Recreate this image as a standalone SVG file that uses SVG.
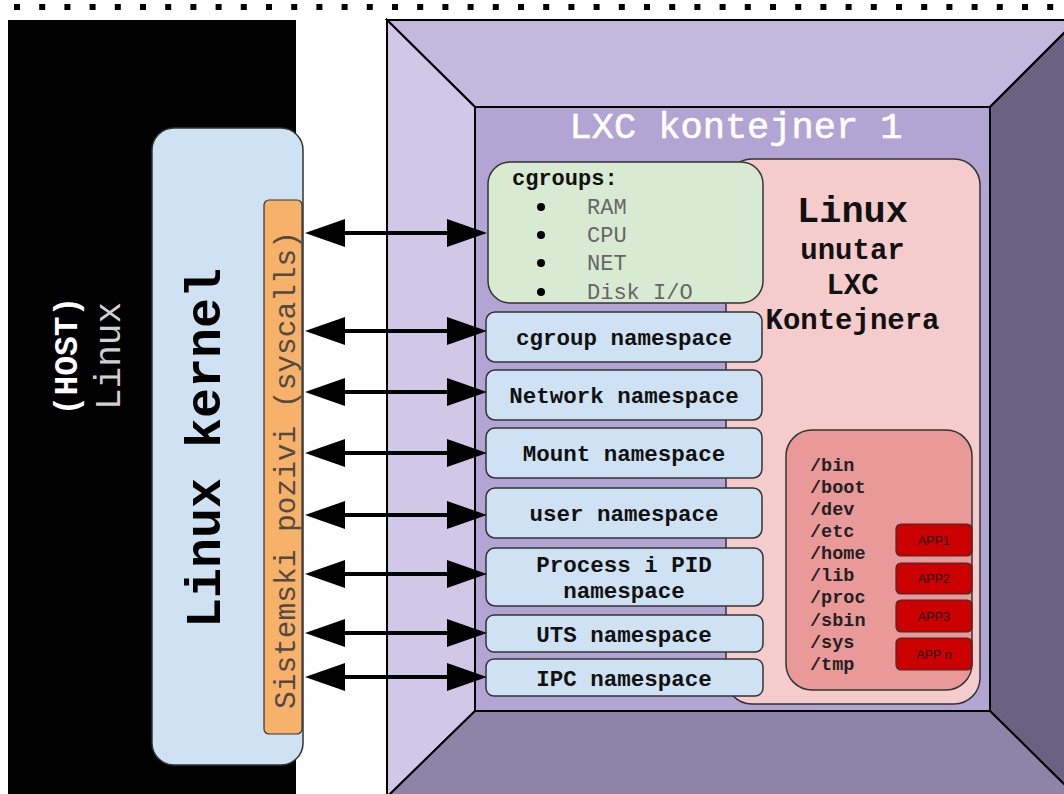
<svg xmlns="http://www.w3.org/2000/svg" width="1064" height="794" viewBox="0 0 1064 794">
<defs>
<style>
.mono{font-family:"Liberation Mono","Courier New",monospace;}
.b{font-weight:bold;}
.ns{fill:#cfe2f3;stroke:#333;stroke-width:1.5;}
.nst{font-family:"Liberation Mono","Courier New",monospace;font-weight:bold;font-size:22.5px;fill:#111;text-anchor:middle;}
.fs{font-family:"Liberation Mono","Courier New",monospace;font-weight:bold;font-size:18.5px;fill:#222;}
.app{fill:#cc0000;stroke:#333;stroke-width:1.2;}
.appt{font-family:"Liberation Sans",Arial,sans-serif;font-size:12.5px;fill:#1a0000;text-anchor:middle;}
.item{font-family:"Liberation Mono","Courier New",monospace;font-size:22px;fill:#666;}
.arr{stroke:#000;stroke-width:4;fill:none;marker-start:url(#ah);marker-end:url(#ah);}
</style>
<marker id="ah" viewBox="0 0 40 28" refX="2" refY="14" markerWidth="40" markerHeight="28" markerUnits="userSpaceOnUse" orient="auto-start-reverse">
<path d="M0,0 L40,14 L0,28 z" fill="#000"/>
</marker>
</defs>
<rect width="1064" height="794" fill="#fff"/>
<line x1="14" y1="7" x2="1064" y2="7" stroke="#000" stroke-width="6" stroke-dasharray="6 19.2"/>

<g id="host">
<rect x="8" y="20" width="288" height="790" fill="#000"/>
<text class="mono b" font-size="33" fill="#fff" text-anchor="middle" transform="translate(77,356) rotate(-90)">(HOST)</text>
<text class="mono" font-size="36" fill="#d0d0d0" text-anchor="middle" transform="translate(120,356) rotate(-90)">Linux</text>
</g>

<g id="kernel">
<rect x="152" y="128" width="151" height="637" rx="22" fill="#cfe2f3" stroke="#333" stroke-width="1.5"/>
<text class="mono b" font-size="50" fill="#000" text-anchor="middle" transform="translate(220,448) rotate(-90)">Linux kernel</text>
</g>

<g id="syscalls">
<rect x="264" y="200" width="38" height="534" rx="5" fill="#f6b26b" stroke="#333" stroke-width="1.2"/>
<text class="mono" font-size="29.5" fill="#554a40" text-anchor="middle" transform="translate(295,470) rotate(-90)">Sistemski pozivi (syscalls)</text>
</g>

<g id="container">
<polygon points="387,20 1077,20 990,107 475,107" fill="#c3b8dd" stroke="#000" stroke-width="2"/>
<polygon points="387,20 475,107 475,711 387,797" fill="#d1c8e7" stroke="#000" stroke-width="2"/>
<polygon points="1077,20 1077,797 990,711 990,107" fill="#6a6283" stroke="#000" stroke-width="2"/>
<polygon points="387,797 475,711 990,711 1077,797" fill="#8d84a8" stroke="#000" stroke-width="2"/>
<rect x="475" y="107" width="515" height="604" fill="#b2a5d4" stroke="#000" stroke-width="2"/>
<text class="mono" font-size="37" fill="#fff" stroke="#fff" stroke-width="0.6" text-anchor="middle" x="736" y="138">LXC kontejner 1</text>
</g>

<g id="linux-inside">
<rect x="726" y="159" width="254" height="545" rx="26" fill="#f4cccc" stroke="#333" stroke-width="1.5"/>
<text class="mono b" font-size="37" fill="#111" text-anchor="middle" x="852.5" y="222">Linux</text>
<text class="mono b" font-size="29" fill="#111" text-anchor="middle" x="852.5" y="259">unutar</text>
<text class="mono b" font-size="29" fill="#111" text-anchor="middle" x="852.5" y="294">LXC</text>
<text class="mono b" font-size="29" fill="#111" text-anchor="middle" x="852.5" y="329">Kontejnera</text>
</g>

<g id="filesystem">
<rect x="786" y="430" width="186" height="260" rx="26" fill="#ea9999" stroke="#333" stroke-width="1.5"/>
<text class="fs" x="810" y="471">/bin</text>
<text class="fs" x="810" y="493">/boot</text>
<text class="fs" x="810" y="515">/dev</text>
<text class="fs" x="810" y="537">/etc</text>
<text class="fs" x="810" y="559">/home</text>
<text class="fs" x="810" y="581">/lib</text>
<text class="fs" x="810" y="603">/proc</text>
<text class="fs" x="810" y="626">/sbin</text>
<text class="fs" x="810" y="648">/sys</text>
<text class="fs" x="810" y="670">/tmp</text>
</g>

<g id="app1"><rect class="app" x="896" y="524" width="76" height="32" rx="5"/><text class="appt" x="934" y="545">APP1</text></g>
<g id="app2"><rect class="app" x="896" y="563" width="76" height="31" rx="5"/><text class="appt" x="934" y="583">APP2</text></g>
<g id="app3"><rect class="app" x="896" y="600" width="76" height="32" rx="5"/><text class="appt" x="934" y="621">APP3</text></g>
<g id="appn"><rect class="app" x="896" y="638" width="76" height="32" rx="5"/><text class="appt" x="934" y="659">APP n</text></g>

<g id="cgroups">
<rect x="488" y="162" width="275" height="141" rx="22" fill="#d9ead3" stroke="#333" stroke-width="1.5"/>
<text class="mono b" font-size="22" fill="#111" x="512" y="185">cgroups:</text>
<circle cx="541" cy="207" r="4" fill="#000"/>
<circle cx="541" cy="235" r="4" fill="#000"/>
<circle cx="541" cy="263" r="4" fill="#000"/>
<circle cx="541" cy="292" r="4" fill="#000"/>
<text class="item" x="587" y="214">RAM</text>
<text class="item" x="587" y="242">CPU</text>
<text class="item" x="587" y="270">NET</text>
<text class="item" x="587" y="299">Disk I/O</text>
</g>

<g id="ns-cgroup"><rect class="ns" x="486" y="312" width="276" height="50" rx="9"/><text class="nst" x="624" y="345">cgroup namespace</text></g>
<g id="ns-network"><rect class="ns" x="486" y="370" width="276" height="50" rx="9"/><text class="nst" x="624" y="403">Network namespace</text></g>
<g id="ns-mount"><rect class="ns" x="486" y="428" width="276" height="50" rx="9"/><text class="nst" x="624" y="461">Mount namespace</text></g>
<g id="ns-user"><rect class="ns" x="486" y="488" width="276" height="50" rx="9"/><text class="nst" x="624" y="521">user namespace</text></g>
<g id="ns-pid"><rect class="ns" x="486" y="548" width="277" height="58" rx="9"/><text class="nst" x="624" y="572">Process i PID</text><text class="nst" x="624" y="598">namespace</text></g>
<g id="ns-uts"><rect class="ns" x="486" y="615" width="277" height="37" rx="8"/><text class="nst" x="624" y="642">UTS namespace</text></g>
<g id="ns-ipc"><rect class="ns" x="486" y="659" width="277" height="37" rx="8"/><text class="nst" x="624" y="686">IPC namespace</text></g>

<g id="connectors">
<line class="arr" x1="343" y1="233" x2="449" y2="233"/>
<line class="arr" x1="343" y1="331" x2="449" y2="331"/>
<line class="arr" x1="343" y1="392" x2="449" y2="392"/>
<line class="arr" x1="343" y1="453" x2="449" y2="453"/>
<line class="arr" x1="343" y1="515" x2="449" y2="515"/>
<line class="arr" x1="343" y1="574" x2="449" y2="574"/>
<line class="arr" x1="343" y1="633" x2="449" y2="633"/>
<line class="arr" x1="343" y1="677" x2="449" y2="677"/>
</g>
</svg>
